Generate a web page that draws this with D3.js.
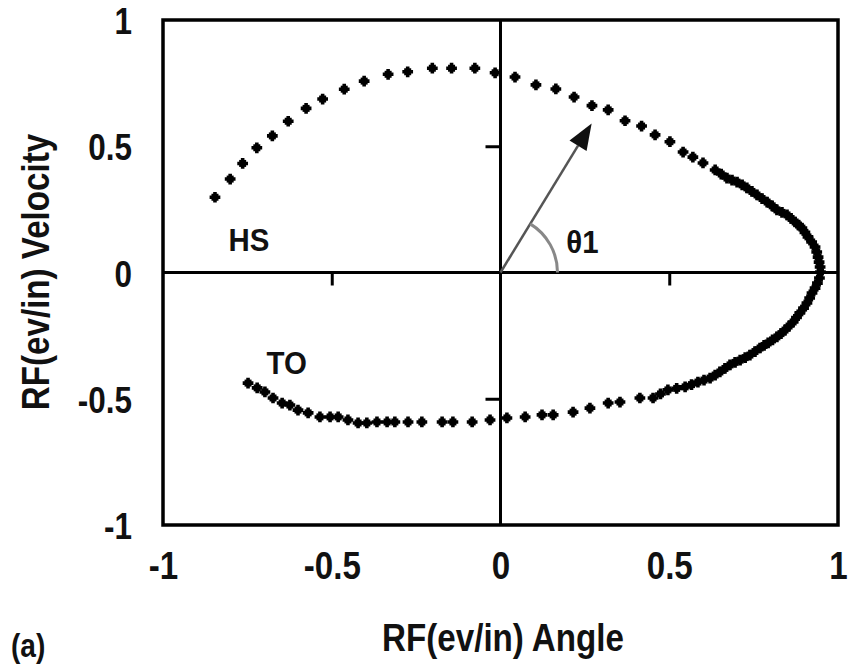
<!DOCTYPE html>
<html><head><meta charset="utf-8">
<script src="https://cdn.jsdelivr.net/npm/d3@7"></script>
<style>
body{margin:0;background:#fff;}
text{font-family:"Liberation Sans",Arial,sans-serif;font-weight:bold;fill:#111;}
</style></head>
<body><svg id="c" width="849" height="665"></svg>
<script>
const angle = [
-0.846,-0.801,-0.764,-0.722,-0.676,-0.629,-0.576,-0.527,-0.463,-0.404,-0.333,-0.275,-0.202,-0.145,-0.076,-0.016,
0.043,0.105,0.164,0.218,0.271,0.319,0.369,0.418,0.458,0.502,0.541,0.570,0.600,0.636,0.654,0.671,0.686,0.701,0.716,0.730,
0.745,0.760,0.775,0.790,0.805,0.819,0.834,0.849,0.861,0.873,0.883,0.893,0.902,0.911,0.922,0.932,0.937,0.941,0.944,0.947,0.948,
0.945,0.939,0.932,0.923,0.916,0.908,0.898,0.887,0.877,0.867,0.855,0.843,0.831,0.819,0.806,0.793,0.781,0.769,0.754,0.739,
0.725,0.710,0.695,0.680,0.665,0.650,0.636,0.621,0.603,0.585,0.566,0.547,0.522,0.496,0.474,0.452,0.413,0.354,0.319,0.265,
0.215,0.156,0.123,0.073,0.019,-0.031,-0.084,-0.141,-0.173,-0.233,-0.274,-0.313,-0.336,-0.366,-0.396,-0.422,-0.452,-0.481,-0.505,-0.535,
-0.570,-0.600,-0.624,-0.647,-0.674,-0.698,-0.721,-0.748];
const velocity = [
0.298,0.370,0.432,0.494,0.541,0.599,0.650,0.687,0.726,0.758,0.785,0.795,0.809,0.809,0.809,0.791,
0.774,0.743,0.727,0.695,0.661,0.644,0.601,0.580,0.545,0.518,0.477,0.457,0.434,0.406,0.390,0.374,0.366,0.358,0.347,0.335,
0.321,0.307,0.293,0.279,0.264,0.248,0.238,0.228,0.214,0.200,0.188,0.176,0.159,0.141,0.121,0.101,0.081,0.061,0.041,0.022,0.002,
-0.022,-0.042,-0.062,-0.081,-0.101,-0.121,-0.141,-0.160,-0.178,-0.196,-0.212,-0.228,-0.242,-0.255,-0.267,-0.279,-0.289,-0.299,-0.313,-0.327,
-0.337,-0.347,-0.356,-0.366,-0.380,-0.394,-0.406,-0.418,-0.426,-0.434,-0.444,-0.453,-0.459,-0.465,-0.481,-0.497,-0.497,-0.513,-0.517,-0.537,
-0.553,-0.564,-0.564,-0.572,-0.576,-0.584,-0.592,-0.592,-0.592,-0.592,-0.592,-0.592,-0.592,-0.592,-0.596,-0.596,-0.584,-0.572,-0.572,-0.572,
-0.556,-0.545,-0.525,-0.517,-0.497,-0.473,-0.457,-0.438];
const xTicks = [-1,-0.5,0,0.5,1];
const yTicks = [-1,-0.5,0,0.5,1];
const innerTicks = [-0.5,0.5];
const arrowTip = [0.27,0.59];
const labels = [{t:"HS",x:-0.806,y:0.085},{t:"TO",x:-0.693,y:-0.400},{t:"θ1",x:0.195,y:0.077}];

const svg = d3.select("#c");
const x = d3.scaleLinear().domain([-1,1]).range([163,838]);
const y = d3.scaleLinear().domain([-1,1]).range([525,20]);
const fmt = d => d===0?"0":String(d);
const SX = 0.85;

// frame
svg.append("rect").attr("x",x(-1)).attr("y",y(1)).attr("width",x(1)-x(-1)).attr("height",y(-1)-y(1))
  .attr("fill","none").attr("stroke","#000").attr("stroke-width",3.5);

// zero lines
svg.append("line").attr("x1",x(-1)).attr("x2",x(1)).attr("y1",y(0)).attr("y2",y(0)).attr("stroke","#000").attr("stroke-width",3);
svg.append("line").attr("x1",x(0)).attr("x2",x(0)).attr("y1",y(1)).attr("y2",y(-1)).attr("stroke","#000").attr("stroke-width",3);

// inner ticks on the zero lines
const gi = svg.append("g").attr("transform",`translate(0,${y(0)})`)
  .call(d3.axisBottom(x).tickValues(innerTicks).tickSize(13).tickFormat(""));
gi.select(".domain").remove();
gi.selectAll("line").attr("stroke-width",3);
const gj = svg.append("g").attr("transform",`translate(${x(0)},0)`)
  .call(d3.axisLeft(y).tickValues(innerTicks).tickSize(15).tickFormat(""));
gj.select(".domain").remove();
gj.selectAll("line").attr("stroke-width",3);

// tick labels
const gx = svg.append("g").attr("transform",`translate(0,${y(-1)})`)
  .call(d3.axisBottom(x).tickValues(xTicks).tickSize(0).tickPadding(26).tickFormat(fmt));
gx.select(".domain").remove();
gx.selectAll("text").attr("font-size",39).style("font-family",null).attr("fill","#111")
  .attr("transform",`scale(${SX},1)`);
const gy = svg.append("g").attr("transform",`translate(${x(-1)},0)`)
  .call(d3.axisLeft(y).tickValues(yTicks).tickSize(0).tickFormat(fmt));
gy.select(".domain").remove();
gy.selectAll("text").attr("font-size",37).style("font-family",null).attr("fill","#111")
  .attr("dy","0.37em").attr("x",-31/SX).attr("transform",`scale(${SX},1)`);

// axis titles
svg.append("text").attr("transform",`translate(503,651) scale(${SX},1)`).attr("text-anchor","middle").attr("font-size",39).text("RF(ev/in) Angle");
svg.append("text").attr("transform",`translate(49,272) rotate(-90) scale(${SX},1)`).attr("text-anchor","middle").attr("font-size",39).text("RF(ev/in) Velocity");
svg.append("text").attr("transform",`translate(11,657) scale(${SX},1)`).attr("font-size",33).text("(a)");

// arrow and angle arc
const x0 = x(0), y0 = y(0), xt = x(arrowTip[0]), yt = y(arrowTip[1]);
const ang = Math.atan2(yt-y0, xt-x0);
const ah = 26, aw = 10;
const bx = xt - ah*Math.cos(ang), by = yt - ah*Math.sin(ang);
svg.append("line").attr("x1",x0).attr("y1",y0).attr("x2",bx).attr("y2",by).attr("stroke","#555").attr("stroke-width",2.5);
svg.append("path").attr("d",`M${xt},${yt}L${bx+aw*Math.sin(ang)},${by-aw*Math.cos(ang)}L${bx-aw*Math.sin(ang)},${by+aw*Math.cos(ang)}Z`).attr("fill","#111");
const r = 57;
svg.append("path").attr("d",d3.arc()({innerRadius:r,outerRadius:r,startAngle:Math.PI/2+ang,endAngle:Math.PI/2}))
  .attr("transform",`translate(${x0},${y0})`).attr("fill","none").attr("stroke","#888").attr("stroke-width",3);

// points
const pts = angle.map((a,i)=>[a,velocity[i]]);
const cross = d3.symbol().type(d3.symbolCross).size(64);
svg.append("g").selectAll("path").data(pts).join("path")
  .attr("transform",d=>`translate(${x(d[0])},${y(d[1])})`).attr("d",cross()).attr("fill","#000");
svg.append("g").selectAll("rect").data(pts).join("rect")
  .attr("x",d=>x(d[0])-3.5).attr("y",d=>y(d[1])-3.5).attr("width",7).attr("height",7).attr("fill","#000");

// labels
svg.append("g").selectAll("text").data(labels).join("text")
  .attr("transform",d=>`translate(${x(d.x)},${y(d.y)}) scale(0.95,1)`).attr("font-size",31).text(d=>d.t);
</script></body></html>
